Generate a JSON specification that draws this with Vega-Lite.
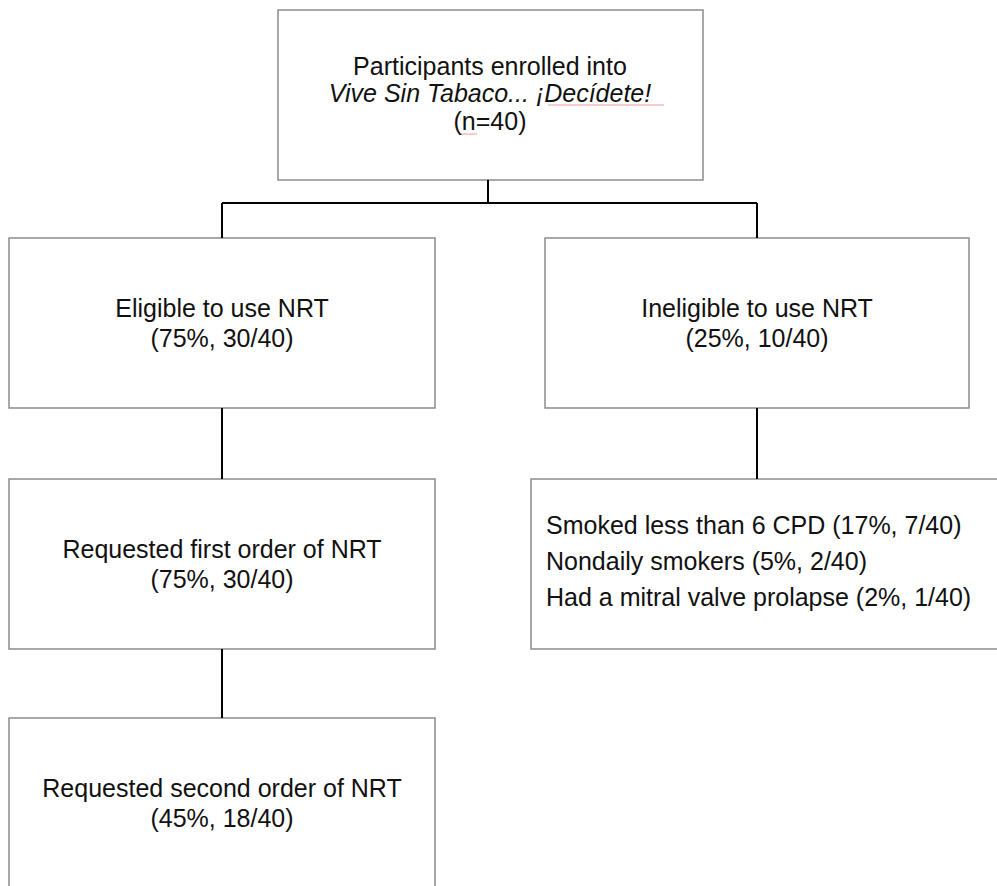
{
  "$schema": "https://vega.github.io/schema/vega-lite/v6.json",
  "width": 997,
  "height": 886,
  "autosize": {"type": "none"},
  "padding": 0,
  "background": "white",
  "config": {"view": {"stroke": null}},
  "datasets": {
    "boxes": [
      {"box": "enrolled", "x0": 278, "x1": 703, "y0": 10, "y1": 180},
      {"box": "eligible", "x0": 9, "x1": 435, "y0": 238, "y1": 408},
      {"box": "ineligible", "x0": 545, "x1": 969, "y0": 238, "y1": 408},
      {"box": "first order", "x0": 9, "x1": 435, "y0": 479, "y1": 649},
      {"box": "reasons", "x0": 531, "x1": 1010, "y0": 479, "y1": 649},
      {"box": "second order", "x0": 9, "x1": 435, "y0": 718, "y1": 900}
    ],
    "links": [
      {"x0": 488, "y0": 180, "x1": 488, "y1": 203},
      {"x0": 222, "y0": 203, "x1": 757, "y1": 203},
      {"x0": 222, "y0": 203, "x1": 222, "y1": 238},
      {"x0": 757, "y0": 203, "x1": 757, "y1": 238},
      {"x0": 222, "y0": 408, "x1": 222, "y1": 479},
      {"x0": 757, "y0": 408, "x1": 757, "y1": 479},
      {"x0": 222, "y0": 649, "x1": 222, "y1": 718}
    ],
    "marks": [
      {"x0": 548, "y0": 105, "x1": 664, "y1": 105},
      {"x0": 459, "y0": 134, "x1": 477, "y1": 134}
    ],
    "labels": [
      {"kind": "center", "text": "Participants enrolled into", "x": 490, "y": 75},
      {"kind": "italic", "text": "Vive Sin Tabaco... ¡Decídete!", "x": 490, "y": 102},
      {"kind": "center", "text": "(n=40)", "x": 490, "y": 130},
      {"kind": "center", "text": "Eligible to use NRT", "x": 222, "y": 317},
      {"kind": "center", "text": "(75%, 30/40)", "x": 222, "y": 347},
      {"kind": "center", "text": "Ineligible to use NRT", "x": 757, "y": 317},
      {"kind": "center", "text": "(25%, 10/40)", "x": 757, "y": 347},
      {"kind": "center", "text": "Requested first order of NRT", "x": 222, "y": 558},
      {"kind": "center", "text": "(75%, 30/40)", "x": 222, "y": 588},
      {"kind": "center", "text": "Requested second order of NRT", "x": 222, "y": 797},
      {"kind": "center", "text": "(45%, 18/40)", "x": 222, "y": 827},
      {"kind": "left", "text": "Smoked less than 6 CPD (17%, 7/40)", "x": 546, "y": 534},
      {"kind": "left", "text": "Nondaily smokers (5%, 2/40)", "x": 546, "y": 570},
      {"kind": "left", "text": "Had a mitral valve prolapse (2%, 1/40)", "x": 546, "y": 606}
    ]
  },
  "layer": [
    {
      "data": {"name": "boxes"},
      "mark": {"type": "rect", "fill": "white", "stroke": "#8c8c8c", "strokeWidth": 1.5, "clip": true},
      "encoding": {
        "x": {"field": "x0", "type": "quantitative", "scale": {"domain": [0, 997], "nice": false, "zero": false}, "axis": null},
        "x2": {"field": "x1"},
        "y": {"field": "y0", "type": "quantitative", "scale": {"domain": [0, 886], "nice": false, "zero": false, "reverse": true}, "axis": null},
        "y2": {"field": "y1"}
      }
    },
    {
      "data": {"name": "links"},
      "mark": {"type": "rule", "color": "#000000", "strokeWidth": 2},
      "encoding": {
        "x": {"field": "x0", "type": "quantitative"},
        "x2": {"field": "x1"},
        "y": {"field": "y0", "type": "quantitative"},
        "y2": {"field": "y1"}
      }
    },
    {
      "data": {"name": "marks"},
      "mark": {"type": "rule", "color": "#e07070", "strokeWidth": 1, "opacity": 0.7},
      "encoding": {
        "x": {"field": "x0", "type": "quantitative"},
        "x2": {"field": "x1"},
        "y": {"field": "y0", "type": "quantitative"},
        "y2": {"field": "y1"}
      }
    },
    {
      "data": {"name": "labels"},
      "transform": [{"filter": "datum.kind === 'center'"}],
      "mark": {"type": "text", "align": "center", "baseline": "alphabetic", "font": "Liberation Sans", "fontSize": 25, "color": "#111111"},
      "encoding": {
        "x": {"field": "x", "type": "quantitative"},
        "y": {"field": "y", "type": "quantitative"},
        "text": {"field": "text"}
      }
    },
    {
      "data": {"name": "labels"},
      "transform": [{"filter": "datum.kind === 'italic'"}],
      "mark": {"type": "text", "align": "center", "baseline": "alphabetic", "font": "Liberation Sans", "fontStyle": "italic", "fontSize": 25, "color": "#111111"},
      "encoding": {
        "x": {"field": "x", "type": "quantitative"},
        "y": {"field": "y", "type": "quantitative"},
        "text": {"field": "text"}
      }
    },
    {
      "data": {"name": "labels"},
      "transform": [{"filter": "datum.kind === 'left'"}],
      "mark": {"type": "text", "align": "left", "baseline": "alphabetic", "font": "Liberation Sans", "fontSize": 25, "color": "#111111"},
      "encoding": {
        "x": {"field": "x", "type": "quantitative"},
        "y": {"field": "y", "type": "quantitative"},
        "text": {"field": "text"}
      }
    }
  ]
}
